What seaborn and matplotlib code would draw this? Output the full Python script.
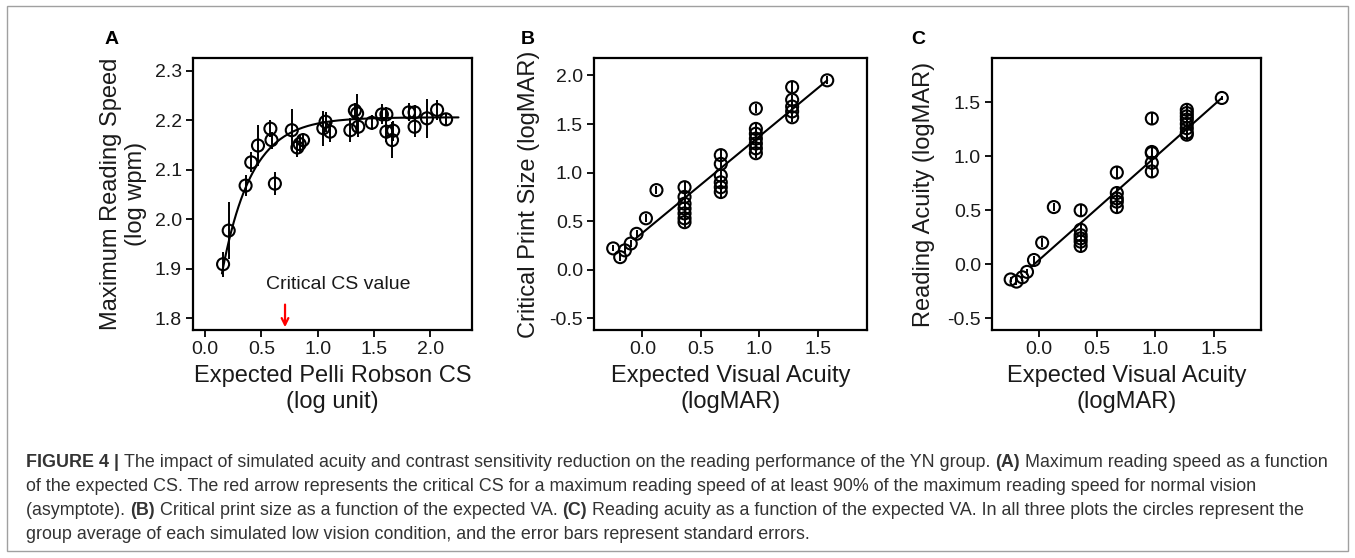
import numpy as np
import matplotlib
matplotlib.use("Agg")
import matplotlib.pyplot as plt
import seaborn as sns
from matplotlib.patches import Rectangle

# Panel A: maximum reading speed vs expected Pelli Robson CS
cs_x = [0.16, 0.21, 0.36, 0.41, 0.47, 0.58, 0.59, 0.62, 0.77, 0.82, 0.84, 0.87,
        1.05, 1.07, 1.11, 1.29, 1.33, 1.35, 1.36, 1.48, 1.57, 1.61, 1.61, 1.66,
        1.67, 1.81, 1.86, 1.86, 1.97, 2.06, 2.14]
mrs_y = [1.909, 1.977, 2.068, 2.115, 2.149, 2.183, 2.160, 2.072, 2.180, 2.145, 2.152, 2.160,
         2.184, 2.197, 2.177, 2.180, 2.220, 2.214, 2.187, 2.195, 2.212, 2.212, 2.177, 2.160,
         2.179, 2.216, 2.216, 2.187, 2.204, 2.221, 2.202]
mrs_se = [0.025, 0.058, 0.022, 0.020, 0.042, 0.017, 0.017, 0.024, 0.042, 0.020, 0.018, 0.015,
          0.035, 0.020, 0.020, 0.024, 0.015, 0.040, 0.020, 0.015, 0.020, 0.015, 0.020, 0.037,
          0.020, 0.018, 0.015, 0.020, 0.040, 0.020, 0.012]
# exponential fit: y = asym - amp * exp(-rate * x)
fit_asym, fit_amp, fit_rate = 2.206, 0.558, 3.8
fit_range = (0.15, 2.25)
critical_cs = 0.71

# Panel B: critical print size vs expected VA
va_b = [-0.25, -0.19, -0.15, -0.10, -0.05, 0.03, 0.12,
        0.36, 0.36, 0.36, 0.36, 0.36, 0.36, 0.36,
        0.67, 0.67, 0.67, 0.67, 0.67, 0.67,
        0.97, 0.97, 0.97, 0.97, 0.97, 0.97, 0.97,
        1.28, 1.28, 1.28, 1.28, 1.28, 1.58]
cps = [0.22, 0.13, 0.20, 0.27, 0.37, 0.53, 0.82,
       0.85, 0.75, 0.68, 0.63, 0.58, 0.53, 0.49,
       1.18, 1.09, 0.97, 0.90, 0.85, 0.80,
       1.66, 1.45, 1.40, 1.35, 1.30, 1.25, 1.20,
       1.88, 1.75, 1.68, 1.63, 1.57, 1.95]
cps_se = [0.03, 0.04, 0.04, 0.04, 0.04, 0.04, 0.04,
          0.05, 0.05, 0.05, 0.05, 0.05, 0.05, 0.05,
          0.05, 0.05, 0.05, 0.05, 0.05, 0.05,
          0.05, 0.05, 0.05, 0.05, 0.05, 0.05, 0.05,
          0.05, 0.05, 0.05, 0.05, 0.05, 0.04]
line_b_x = [-0.06, 1.58]
line_b_y = [0.32, 1.95]

# Panel C: reading acuity vs expected VA
va_c = [-0.24, -0.19, -0.14, -0.10, -0.04, 0.03, 0.13,
        0.36, 0.36, 0.36, 0.36, 0.36, 0.36,
        0.67, 0.67, 0.67, 0.67, 0.67,
        0.97, 0.97, 0.97, 0.97, 0.97,
        1.27, 1.27, 1.27, 1.27, 1.27, 1.27, 1.27, 1.27, 1.57]
ra = [-0.14, -0.16, -0.12, -0.07, 0.04, 0.20, 0.53,
      0.50, 0.32, 0.27, 0.24, 0.21, 0.17,
      0.85, 0.66, 0.61, 0.58, 0.53,
      1.35, 1.04, 1.03, 0.94, 0.86,
      1.43, 1.40, 1.37, 1.34, 1.30, 1.26, 1.22, 1.20, 1.54]
ra_se = [0.02, 0.03, 0.03, 0.03, 0.04, 0.04, 0.04,
         0.05, 0.05, 0.05, 0.05, 0.05, 0.05,
         0.05, 0.05, 0.05, 0.05, 0.05,
         0.05, 0.05, 0.05, 0.05, 0.05,
         0.05, 0.05, 0.05, 0.05, 0.05, 0.05, 0.05, 0.05, 0.02]
line_c_x = [-0.06, 1.57]
line_c_y = [-0.02, 1.54]

caption_lines = [
    [("FIGURE 4 | ", True),
     ("The impact of simulated acuity and contrast sensitivity reduction on the reading performance of the YN group. ", False),
     ("(A)", True), (" Maximum reading speed as a function", False)],
    [("of the expected CS. The red arrow represents the critical CS for a maximum reading speed of at least 90% of the maximum reading speed for normal vision", False)],
    [("(asymptote). ", False), ("(B)", True), (" Critical print size as a function of the expected VA. ", False),
     ("(C)", True), (" Reading acuity as a function of the expected VA. In all three plots the circles represent the", False)],
    [("group average of each simulated low vision condition, and the error bars represent standard errors.", False)],
]

sns.set_style("white")
plt.rcParams["font.family"] = ["Liberation Sans", "DejaVu Sans"]
TXT = "#1a1a1a"

W, H = 1355, 558
fig = plt.figure(figsize=(W / 100, H / 100), dpi=100)


def px_axes(left, right, top, bottom):
    return fig.add_axes([left / W, 1 - bottom / H, (right - left) / W, (bottom - top) / H])


def style(ax):
    for s in ax.spines.values():
        s.set_visible(True)
        s.set_linewidth(1.6)
        s.set_color("black")
    ax.tick_params(direction="out", length=5, width=1.3, labelsize=14,
                   colors="black", labelcolor=TXT, left=True, bottom=True, pad=3)


def points(ax, x, y, se):
    ax.errorbar(x, y, yerr=se, fmt="none", ecolor="black", elinewidth=1.4, capsize=0, zorder=2)
    sns.scatterplot(x=x, y=y, ax=ax, marker="o", s=75, facecolor="none",
                    edgecolor="black", linewidth=1.5, zorder=3)


# ---- A
axA = px_axes(193, 472, 58, 330)
points(axA, cs_x, mrs_y, mrs_se)
fx = np.linspace(fit_range[0], fit_range[1], 200)
sns.lineplot(x=fx, y=fit_asym - fit_amp * np.exp(-fit_rate * fx), ax=axA,
             color="black", linewidth=1.5, zorder=2)
axA.set_xlim(-0.107, 2.37)
axA.set_ylim(1.776, 2.326)
axA.set_xticks([0.0, 0.5, 1.0, 1.5, 2.0])
axA.set_yticks([1.8, 1.9, 2.0, 2.1, 2.2, 2.3])
axA.annotate("", xy=(critical_cs, 1.776), xytext=(critical_cs, 1.833),
             arrowprops=dict(arrowstyle="->", color="red", lw=1.6,
                             mutation_scale=12), annotation_clip=False)
axA.text(1.18, 1.867, "Critical CS value", ha="center", va="center", fontsize=14, color=TXT)
axA.set_xlabel("Expected Pelli Robson CS\n(log unit)", fontsize=17, color=TXT)
axA.set_ylabel("Maximum Reading Speed\n(log wpm)", fontsize=17, color=TXT)
axA.xaxis.set_label_coords(0.5, -0.13)
axA.yaxis.set_label_coords(-0.165, 0.5)
style(axA)

# ---- B
axB = px_axes(594, 867, 58, 330)
points(axB, va_b, cps, cps_se)
sns.lineplot(x=line_b_x, y=line_b_y, ax=axB, color="black", linewidth=1.5, zorder=2)
axB.set_xlim(-0.414, 1.92)
axB.set_ylim(-0.62, 2.18)
axB.set_xticks([0.0, 0.5, 1.0, 1.5])
axB.set_yticks([-0.5, 0.0, 0.5, 1.0, 1.5, 2.0])
axB.set_xlabel("Expected Visual Acuity\n(logMAR)", fontsize=17, color=TXT)
axB.set_ylabel("Critical Print Size (logMAR)", fontsize=17, color=TXT)
axB.xaxis.set_label_coords(0.5, -0.13)
axB.yaxis.set_label_coords(-0.198, 0.5)
style(axB)

# ---- C
axC = px_axes(992, 1261, 58, 330)
points(axC, va_c, ra, ra_se)
sns.lineplot(x=line_c_x, y=line_c_y, ax=axC, color="black", linewidth=1.5, zorder=2)
axC.set_xlim(-0.40, 1.906)
axC.set_ylim(-0.608, 1.91)
axC.set_xticks([0.0, 0.5, 1.0, 1.5])
axC.set_yticks([-0.5, 0.0, 0.5, 1.0, 1.5])
axC.set_xlabel("Expected Visual Acuity\n(logMAR)", fontsize=17, color=TXT)
axC.set_ylabel("Reading Acuity (logMAR)", fontsize=17, color=TXT)
axC.xaxis.set_label_coords(0.5, -0.13)
axC.yaxis.set_label_coords(-0.212, 0.5)
style(axC)

for ax in (axA, axB, axC):
    ax.set_yticklabels([f"{v:.1f}" for v in ax.get_yticks()])
    ax.set_xticklabels([f"{v:.1f}" for v in ax.get_xticks()])

for letter, xp in (("A", 112), ("B", 528), ("C", 918)):
    fig.text(xp / W, 1 - 40 / H, letter, ha="center", va="center",
             fontsize=14, fontweight="bold", color="black")

# outer frame
fig.patches.append(Rectangle((7 / W, 1 - 551 / H), 1341 / W, 545 / H,
                             transform=fig.transFigure, fill=False,
                             edgecolor="#a0a0a0", linewidth=1.0))

# caption with bold runs
renderer = fig.canvas.get_renderer()
cap_family = ["Liberation Sans Narrow", "Liberation Sans", "DejaVu Sans"]
for i, segs in enumerate(caption_lines):
    x = 26
    yb = 467 + 24 * i
    for text, bold in segs:
        t = fig.text(x / W, 1 - yb / H, text, ha="left", va="baseline",
                     fontsize=12.9, family=cap_family, color="#333333",
                     fontweight="bold" if bold else "normal")
        x += t.get_window_extent(renderer).width

fig.savefig("out.png", dpi=100)
